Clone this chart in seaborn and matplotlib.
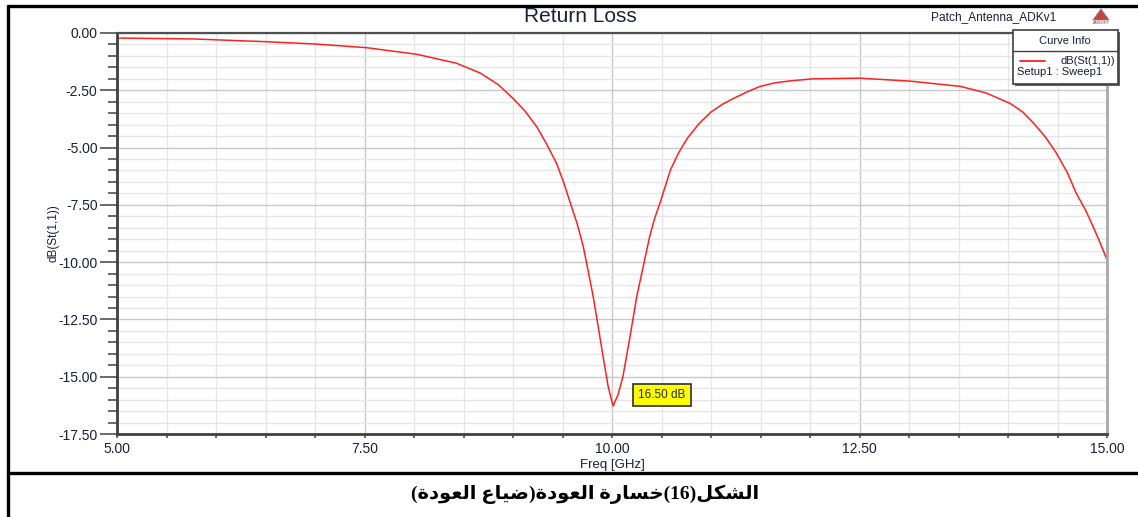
import matplotlib
matplotlib.use("Agg")
import matplotlib.pyplot as plt
from matplotlib.ticker import MultipleLocator, FormatStrFormatter
from matplotlib.patches import Rectangle, Polygon
import seaborn as sns
import pandas as pd

# S11
freq_ghz = [5.00, 5.77, 6.51, 7.00, 7.52, 8.03, 8.43, 8.67, 8.85, 9.00, 9.12,
            9.24, 9.34, 9.44, 9.51, 9.58, 9.65, 9.71, 9.76, 9.81, 9.86, 9.91,
            9.96, 10.01, 10.06, 10.11, 10.18, 10.25, 10.32, 10.38, 10.43, 10.49,
            10.59, 10.67, 10.76, 10.88, 11.00, 11.12, 11.23, 11.36, 11.49, 11.64,
            11.80, 12.03, 12.50, 13.01, 13.52, 13.78, 14.02, 14.15, 14.26, 14.38,
            14.49, 14.60, 14.69, 14.78, 14.86, 14.93, 15.00]
s11_db = [-0.22, -0.26, -0.38, -0.48, -0.64, -0.93, -1.32, -1.75, -2.25, -2.85, -3.40,
          -4.09, -4.85, -5.69, -6.50, -7.43, -8.35, -9.32, -10.40, -11.50, -12.80, -14.12,
          -15.40, -16.28, -15.80, -15.00, -13.30, -11.50, -10.10, -8.89, -8.10, -7.35,
          -5.98, -5.25, -4.60, -3.95, -3.45, -3.10, -2.85, -2.58, -2.34, -2.18,
          -2.09, -2.00, -1.97, -2.10, -2.33, -2.62, -3.07, -3.45, -3.94, -4.55,
          -5.25, -6.10, -7.00, -7.70, -8.45, -9.15, -9.90]
x_ticks = [5.00, 7.50, 10.00, 12.50, 15.00]
y_ticks = [0.00, -2.50, -5.00, -7.50, -10.00, -12.50, -15.00, -17.50]
marker_label = "16.50 dB"

df = pd.DataFrame({"freq": freq_ghz, "s11": s11_db})

sns.set_style("white")
plt.rcParams["font.family"] = ["Liberation Sans", "DejaVu Sans"]

W, H = 1138, 517
fig = plt.figure(figsize=(W / 100, H / 100), dpi=100)
ax = fig.add_axes([117 / W, 1 - 434 / H, 990 / W, 401 / H])

sns.lineplot(data=df, x="freq", y="s11", color="#ff2020", linewidth=1.1, ax=ax)

ax.set_xlim(5, 15)
ax.set_ylim(-17.5, 0)
ax.set_xticks(x_ticks)
ax.set_yticks(y_ticks)
ax.xaxis.set_minor_locator(MultipleLocator(0.5))
ax.yaxis.set_minor_locator(MultipleLocator(0.5))
ax.xaxis.set_major_formatter(FormatStrFormatter("%.2f"))
ax.yaxis.set_major_formatter(FormatStrFormatter("%.2f"))
ax.grid(which="major", color="#c8c8c8", linewidth=1.0)
ax.grid(which="minor", color="#e6e6e6", linewidth=1.0)
ax.set_axisbelow(True)

ax.tick_params(axis="y", which="major", direction="out", length=12, width=1.2,
               color="#505050", labelsize=10, labelcolor="#1c1c3c", pad=2, left=True)
ax.tick_params(axis="y", which="minor", direction="out", length=6.5, width=1.2,
               color="#505050", left=True)
ax.tick_params(axis="x", which="both", direction="out", length=3, width=1.2,
               color="#505050", labelsize=10, labelcolor="#1c1c3c", pad=3, bottom=True)

for side, col, lw in [("left", "#404040", 2.0), ("bottom", "#404040", 2.0),
                      ("top", "#505050", 1.6), ("right", "#a8a8a8", 2.0)]:
    ax.spines[side].set_visible(True)
    ax.spines[side].set_color(col)
    ax.spines[side].set_linewidth(lw)

ax.set_xlabel("Freq [GHz]", fontsize=9.5, color="#1c1c3c", labelpad=2)
ax.set_ylabel("dB(St(1,1))", fontsize=8.5, color="#1c1c3c", labelpad=-1)

# marker box at the resonance
ax.text(10.5, -15.8, marker_label, fontsize=8.5, ha="center", va="center",
        bbox=dict(boxstyle="square,pad=0.45", facecolor="#ffff00", edgecolor="#303030", linewidth=1.2))

# overlay in pixel coordinates for the frame, titles and the curve info box
ov = fig.add_axes([0, 0, 1, 1], zorder=5)
ov.set_xlim(0, W)
ov.set_ylim(H, 0)
ov.axis("off")
ov.patch.set_alpha(0)

ov.plot([8, 8], [6, H], color="black", linewidth=2.4)
ov.plot([8, W], [6, 6], color="black", linewidth=2.4)
ov.plot([8, W], [473, 473], color="black", linewidth=2.4)

ov.text(580, 17, "Return Loss", fontsize=15, ha="center", va="center", color="#1c1c3c")
ov.text(994, 17, "Patch_Antenna_ADKv1", fontsize=8.6, ha="center", va="center", color="#1c1c3c")
ov.add_patch(Polygon([[1093, 20], [1101, 9], [1109, 20]], closed=True,
                     facecolor="#c84040", edgecolor="#808080", linewidth=0.6))
ov.text(1101, 23, "ANSOFT", fontsize=3, ha="center", va="center", color="#a02020")

# curve info box
ov.add_patch(Rectangle((1015, 32), 105, 54, facecolor="#606060", edgecolor="none"))
ov.add_patch(Rectangle((1013, 30), 105, 54, facecolor="white", edgecolor="#404040", linewidth=1.2))
ov.plot([1013, 1118], [51, 51], color="#404040", linewidth=1.0)
ov.text(1065, 41, "Curve Info", fontsize=8, ha="center", va="center", color="#1c1c3c")
ov.plot([1020, 1045], [61, 61], color="#ff2020", linewidth=1.3)
ov.text(1115, 61, "dB(St(1,1))", fontsize=8, ha="right", va="center", color="#1c1c3c")
ov.text(1017, 72, "Setup1 : Sweep1", fontsize=8, ha="left", va="center", color="#1c1c3c")

# caption (Arabic in presentation forms, visual order): الشكل(16)خسارة العودة(ضياع العودة)
caption = ("(\uFE93\uFEA9\uFEEE\uFECC\uFEDF\uFE8D \uFEC9\uFE8E\uFEF4\uFEBF)"
           "\uFE93\uFEA9\uFEEE\uFECC\uFEDF\uFE8D \uFE93\uFEAD\uFE8E\uFEB4\uFEA7"
           "(16)\uFEDE\uFEDC\uFEB8\uFEDF\uFE8D")
ov.text(585, 494, caption, fontsize=14, fontweight="bold", ha="center", va="center",
        color="black", family=["Liberation Serif", "DejaVu Sans"])

fig.savefig("out.png", dpi=100)
